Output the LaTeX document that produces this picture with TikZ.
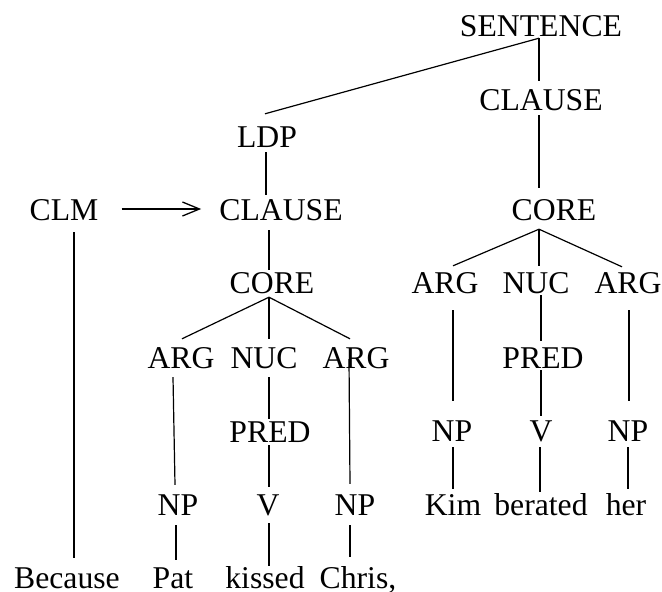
\documentclass[tikz,border=0pt]{standalone}
\usepackage{fontspec}
\setmainfont{Liberation Serif}
\usetikzlibrary{arrows.meta}

\begin{document}
\begin{tikzpicture}[x=1pt,y=-1pt]
  \tikzstyle{every node}=[inner sep=0pt,anchor=base,text height=22pt,text depth=0pt,font=\fontsize{31.7}{38}\selectfont]
  \tikzstyle{branch}=[line width=1.2pt]
  \tikzstyle{link}=[line width=1.3pt,-{Straight Barb[length=17pt,width=14pt]}]
  \useasboundingbox (0,0) rectangle (662,592);

  % Define the upper nodes
  \node (sentence) at (541,36) {SENTENCE};
  \node (clauseR) at (541,110) {CLAUSE};
  \node (ldp) at (267,147) {LDP};
  \node (clm) at (64,220) {CLM};
  \node (clauseL) at (281,220) {CLAUSE};
  \node (coreR) at (554,220) {CORE};
  \node (coreL) at (272,293) {CORE};

  % Define the right clause
  \node (argRa) at (445,293) {ARG};
  \node (nucR) at (536,293) {NUC};
  \node (argRb) at (628,293) {ARG};
  \node (predR) at (543,368) {PRED};
  \node (npRa) at (452,441) {NP};
  \node (vR) at (541,441) {V};
  \node (npRb) at (628,441) {NP};
  \node (kim) at (453,515) {Kim};
  \node (berated) at (541,515) {berated};
  \node (her) at (626,515) {her};

  % Define the left clause
  \node (argLa) at (181,368) {ARG};
  \node (nucL) at (264,368) {NUC};
  \node (argLb) at (356,368) {ARG};
  \node (predL) at (270,442) {PRED};
  \node (npLa) at (178,515) {NP};
  \node (vL) at (268,515) {V};
  \node (npLb) at (355,515) {NP};
  \node (because) at (67,588) {Because};
  \node (pat) at (173,588) {Pat};
  \node (kissed) at (265,588) {kissed};
  \node (chris) at (358,588) {Chris,};

  % Draw the tree branches (mother/shift/daughter/shift)
  \foreach \a/\ax/\ay/\b/\bx/\by in {
    sentence/-2/2/ldp/-2/-11, sentence/-2/2/clauseR/-2/-7,
    clauseR/-2/5/coreR/-15/-10, ldp/-1/5/clauseL/-15/-3,
    clm/10/12/because/7/-8, clauseL/-12/10/coreL/-3/-1,
    coreL/-3/4/argLa/1/-7, coreL/-3/4/nucL/5/-7, coreL/-3/4/argLb/-6/-7,
    coreR/-15/9/argRa/8/-5, coreR/-15/9/nucR/3/-5, coreR/-15/9/argRb/-6/-4,
    argRa/8/17/npRa/1/-18, nucR/5/2/predR/-2/-5, argRb/1/17/npRb/1/-18,
    predR/-2/2/vR/0/-3, npRa/1/6/kim/0/-4, vR/-1/6/berated/-1/-1,
    npRb/0/6/her/2/-4, argLa/-8/9/npLa/-3/-8, nucL/5/9/predL/-1/-1,
    argLb/-7/-9/npLb/-5/-9, predL/-1/3/vL/1/-6, npLa/-2/10/pat/3/-6,
    vL/1/8/kissed/4/0, npLb/-5/10/chris/-8/-9} {
    \draw[branch] ([shift={(\ax,\ay)}]\a.south) -- ([shift={(\bx,\by)}]\b.north);
  }

  % Draw the arrow from the clause linkage marker
  \draw[link] ([xshift=23pt]clm.east) -- ([xshift=-18pt]clauseL.west);
\end{tikzpicture}
\end{document}
